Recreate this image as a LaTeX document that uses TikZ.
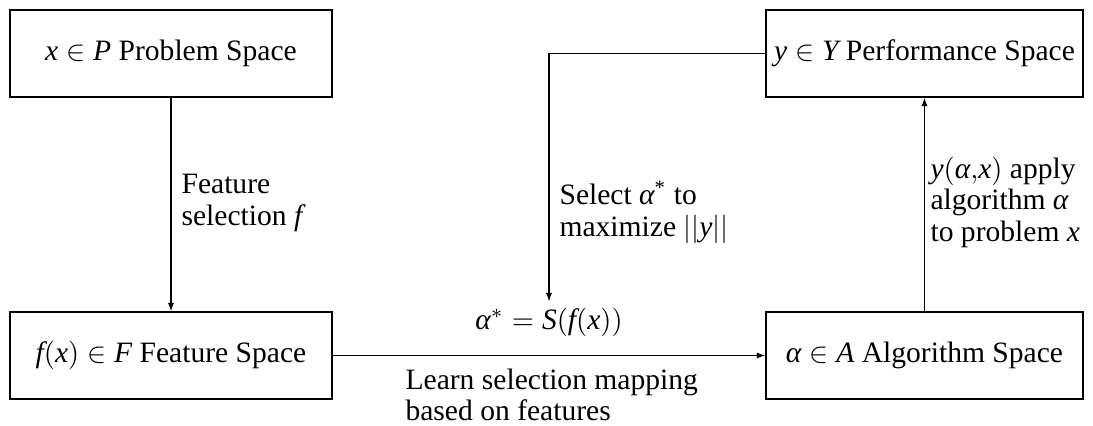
\documentclass[tikz,border=0pt]{standalone}
\usepackage{fontspec}
\setmainfont{Liberation Serif}
\usetikzlibrary{arrows.meta}
\newcommand{\vi}[1]{\mbox{\itshape #1}}
\begin{document}
\begin{tikzpicture}[x=0.35pt,y=-0.35pt,
  box/.style={draw, line width=0.45pt, minimum height=30.45pt, inner sep=0pt, font=\fontsize{10.35}{11}\selectfont},
  wbox/.style={box, minimum width=112.7pt},
  nbox/.style={box, minimum width=110.95pt},
  lbl/.style={align=left, inner sep=0pt, font=\fontsize{10.35}{11}\selectfont},
  arr/.style={line width=0.45pt, -{Latex[length=3pt,width=2.2pt]}}]
\useasboundingbox (0,0) rectangle (1093,425);
\node[wbox] (prob) at (171,53.5) {$\vi{x} \in \vi{P}$ Problem Space};
\node[wbox] (feat) at (171,355.5) {$\vi{f}(\vi{x}) \in \vi{F}$ Feature Space};
\node[nbox] (perf) at (924.5,53.5) {$\vi{y} \in \vi{Y}$ Performance Space};
\node[nbox] (alg) at (924.5,355.5) {$\vi{α} \in \vi{A}$ Algorithm Space};
\node[lbl, inner sep=2pt] (sel) at (549,322) {$\vi{α}^* = \vi{S}(\vi{f}(\vi{x}))$};
\node[lbl, anchor=west] (l1) at (181,203) {Feature\\selection \vi{f}};
\node[lbl, anchor=west] (l2) at (559,212) {Select \vi{α}\textsuperscript{*} to\\maximize $||\vi{y}||$};
\node[lbl, anchor=west] (l3) at (930,202) {$\vi{y}(\vi{α}{,}\vi{x})$ apply\\algorithm \vi{α}\\to problem \vi{x}};
\node[lbl, anchor=west] (l4) at (405,395) {Learn selection mapping\\based on features};
\draw[arr] (prob) -- (feat);
\draw[arr] (feat) -- (alg);
\draw[arr] (alg) -- (perf);
\draw[arr] (perf.west) -| (sel.north);
\end{tikzpicture}
\end{document}
